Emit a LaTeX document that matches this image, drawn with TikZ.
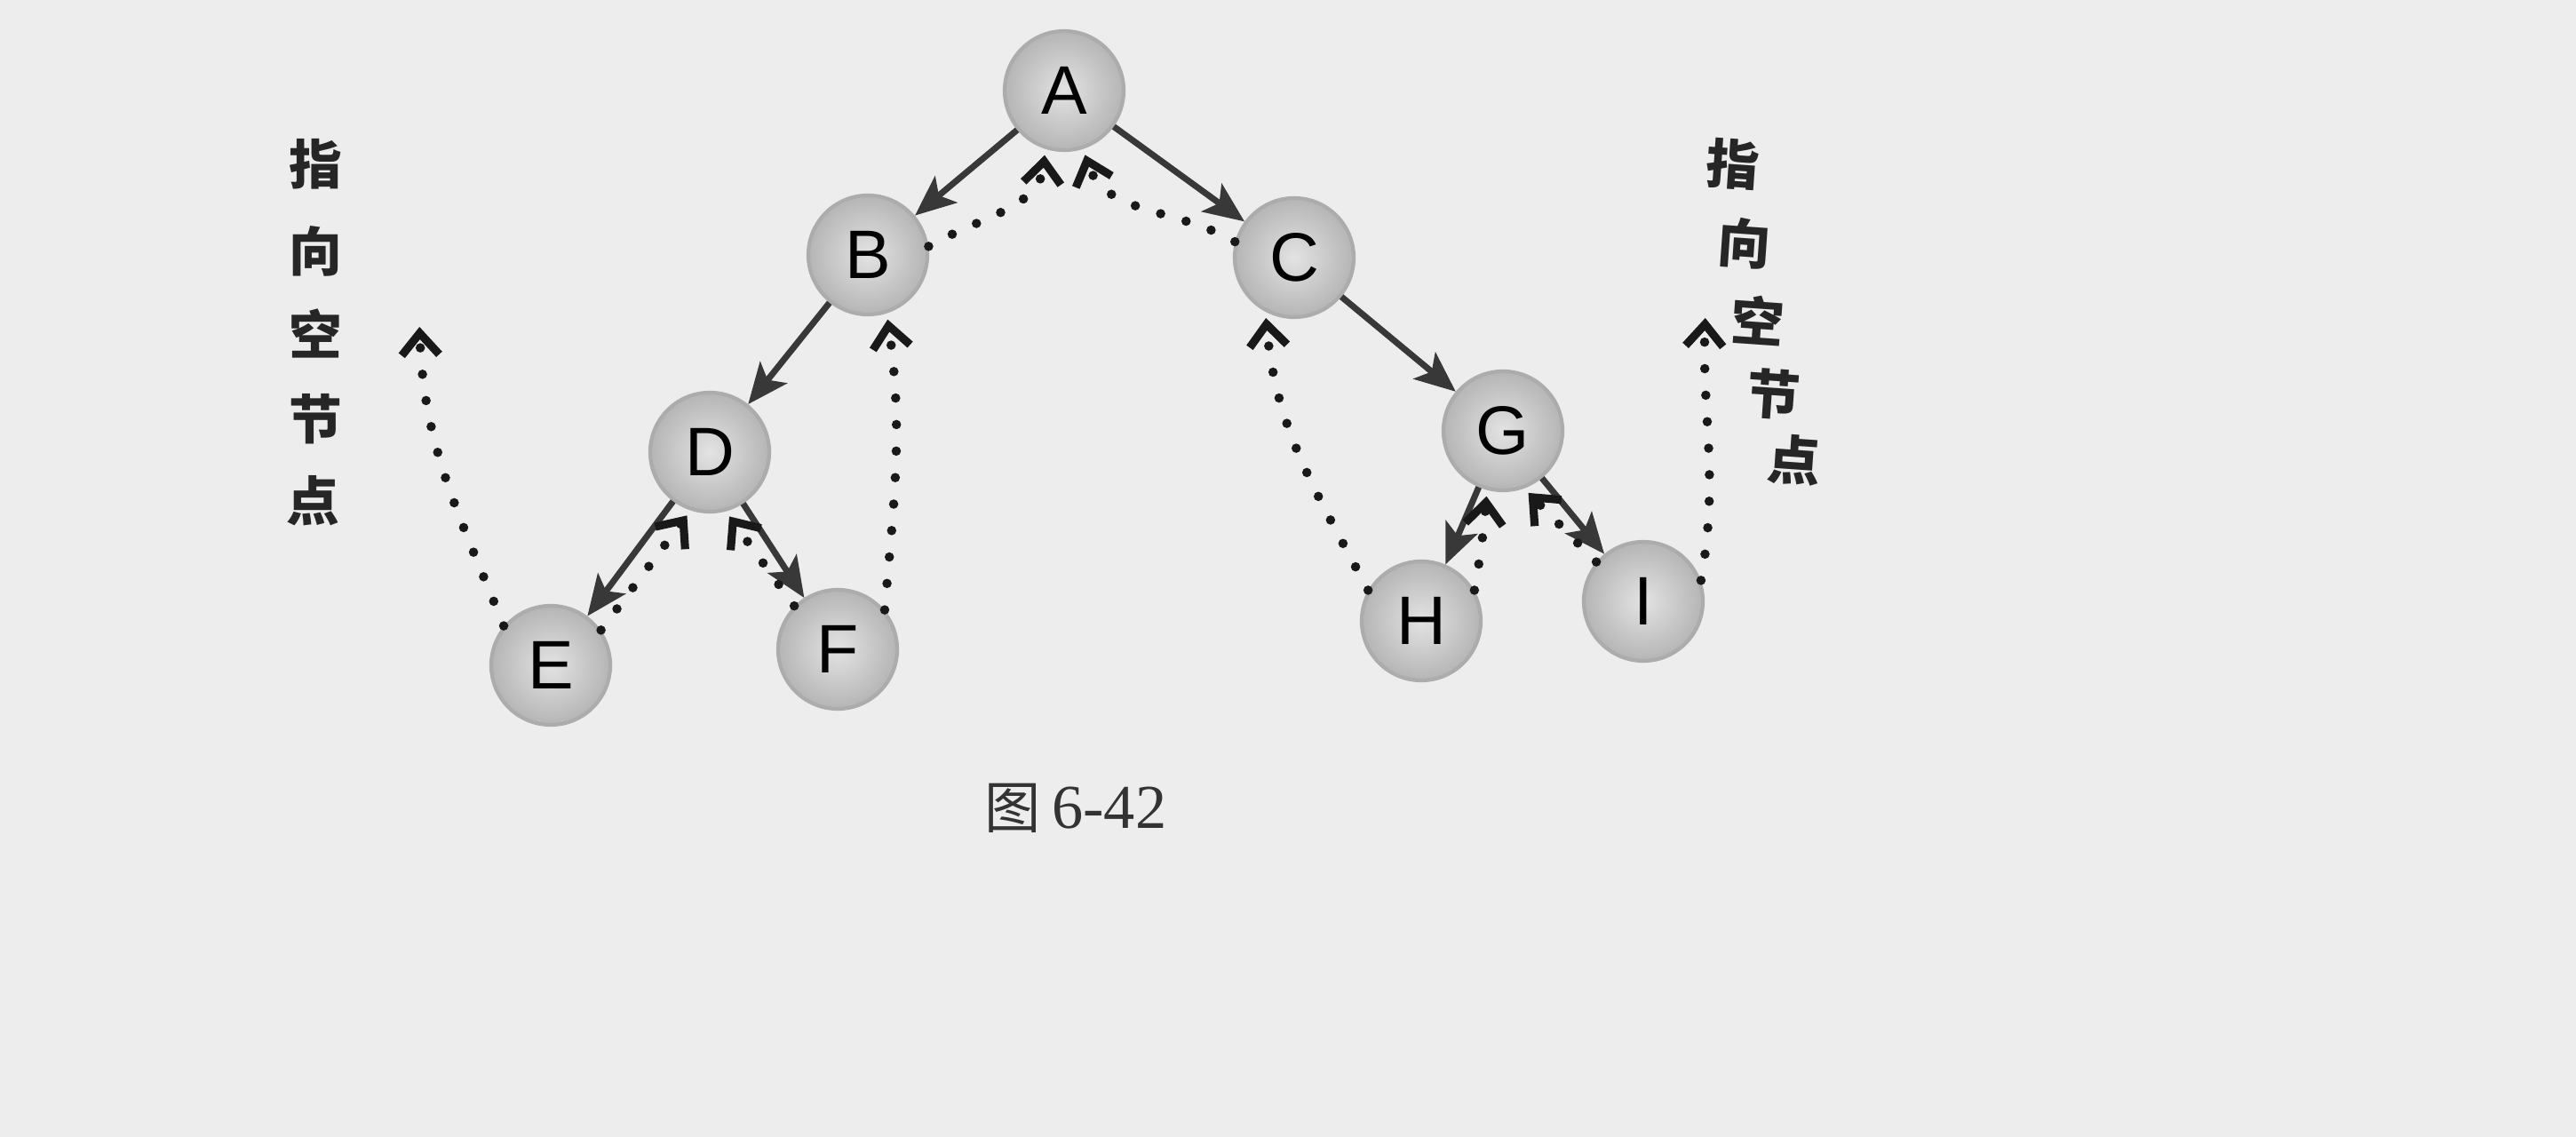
\documentclass[tikz,border=0pt]{standalone}
\usepackage{fontspec}
\setmainfont{Liberation Serif}
\setsansfont{Liberation Sans}
\newfontfamily\cjk{Noto Sans CJK SC}
\usetikzlibrary{arrows.meta}
\tikzset{
  tnode/.style={circle, minimum size=1.34cm, inner sep=0pt, draw=gray!65, line width=1.2pt,
    inner color=gray!22, outer color=gray!58, font=\sffamily\fontsize{22}{22}\selectfont},
  tree/.style={-{Stealth[length=13pt,width=11pt,inset=3pt]}, line width=2pt, draw=black!78},
  thread/.style={-{Straight Barb[length=7pt,width=12pt,line width=2.6pt]}, line width=3pt,
    dash pattern=on 0pt off 8.5pt, line cap=round, draw=black!90, shorten >=2pt},
  cjklabel/.style={font=\cjk\bfseries\fontsize{17}{17}\selectfont, text=black!85, inner sep=0pt},
}
\begin{document}
\begin{tikzpicture}[x=1cm,y=1cm]
\fill[gray!14] (0,0) rectangle (29,-12.8);
\useasboundingbox (0,0) rectangle (29,-12.8);
% nodes
\node[tnode] (A) at (11.98,-1.02) {A};
\node[tnode] (B) at (9.77,-2.87) {B};
\node[tnode] (C) at (14.57,-2.90) {C};
\node[tnode] (D) at (7.99,-5.09) {D};
\node[tnode] (E) at (6.20,-7.49) {E};
\node[tnode] (F) at (9.43,-7.31) {F};
\node[tnode] (G) at (16.92,-4.85) {G};
\node[tnode] (H) at (16.00,-6.99) {H};
\node[tnode] (I) at (18.50,-6.77) {I};
\coordinate (nullL) at (4.72,-3.61);
\coordinate (nullR) at (19.20,-3.51);
% tree edges
\draw[tree] (A) -- (B);
\draw[tree] (A) -- (C);
\draw[tree] (B) -- (D);
\draw[tree] (C) -- (G);
\draw[tree] (D) -- (E);
\draw[tree] (D) -- (F);
\draw[tree] (G) -- (H);
\draw[tree] (G) -- (I);
% threads
\draw[thread] (E.140) to[out=112, in=-88] (nullL);
\draw[thread] (E.35) -- (D.-108);
\draw[thread] (F.135) -- (D.-75);
\draw[thread] (F.40) to[out=85, in=-82] (B.-72);
\draw[thread] (B.8) to[out=30, in=-95] (A.-108);
\draw[thread] (C.165) to[out=150, in=-72] (A.-72);
\draw[thread] (H.150) to[out=118, in=-85] (C.-118);
\draw[thread] (H.30) to[out=80, in=-95] (G.-105);
\draw[thread] (I.140) -- (G.-70);
\draw[thread] (I.20) to[out=80, in=-92] (nullR);
% labels
\node[cjklabel] (L1) at (3.55,-1.85) {指};
\node[cjklabel] (L2) at (3.55,-2.83) {向};
\node[cjklabel] (L3) at (3.55,-3.75) {空};
\node[cjklabel] (L4) at (3.55,-4.72) {节};
\node[cjklabel] (L5) at (3.52,-5.64) {点};
\node[cjklabel, rotate=-4] (R1) at (19.51,-1.85) {指};
\node[cjklabel, rotate=-4] (R2) at (19.64,-2.74) {向};
\node[cjklabel, rotate=-4] (R3) at (19.79,-3.61) {空};
\node[cjklabel, rotate=-4] (R4) at (19.97,-4.44) {节};
\node[cjklabel, rotate=-4] (R5) at (20.20,-5.18) {点};
\node[text=black!80, inner sep=0pt] (cap) at (12.11,-9.10) {{\cjk\fontsize{18}{18}\selectfont 图}\hspace{0.35em}{\fontsize{20}{20}\selectfont 6-42}};
\end{tikzpicture}
\end{document}
